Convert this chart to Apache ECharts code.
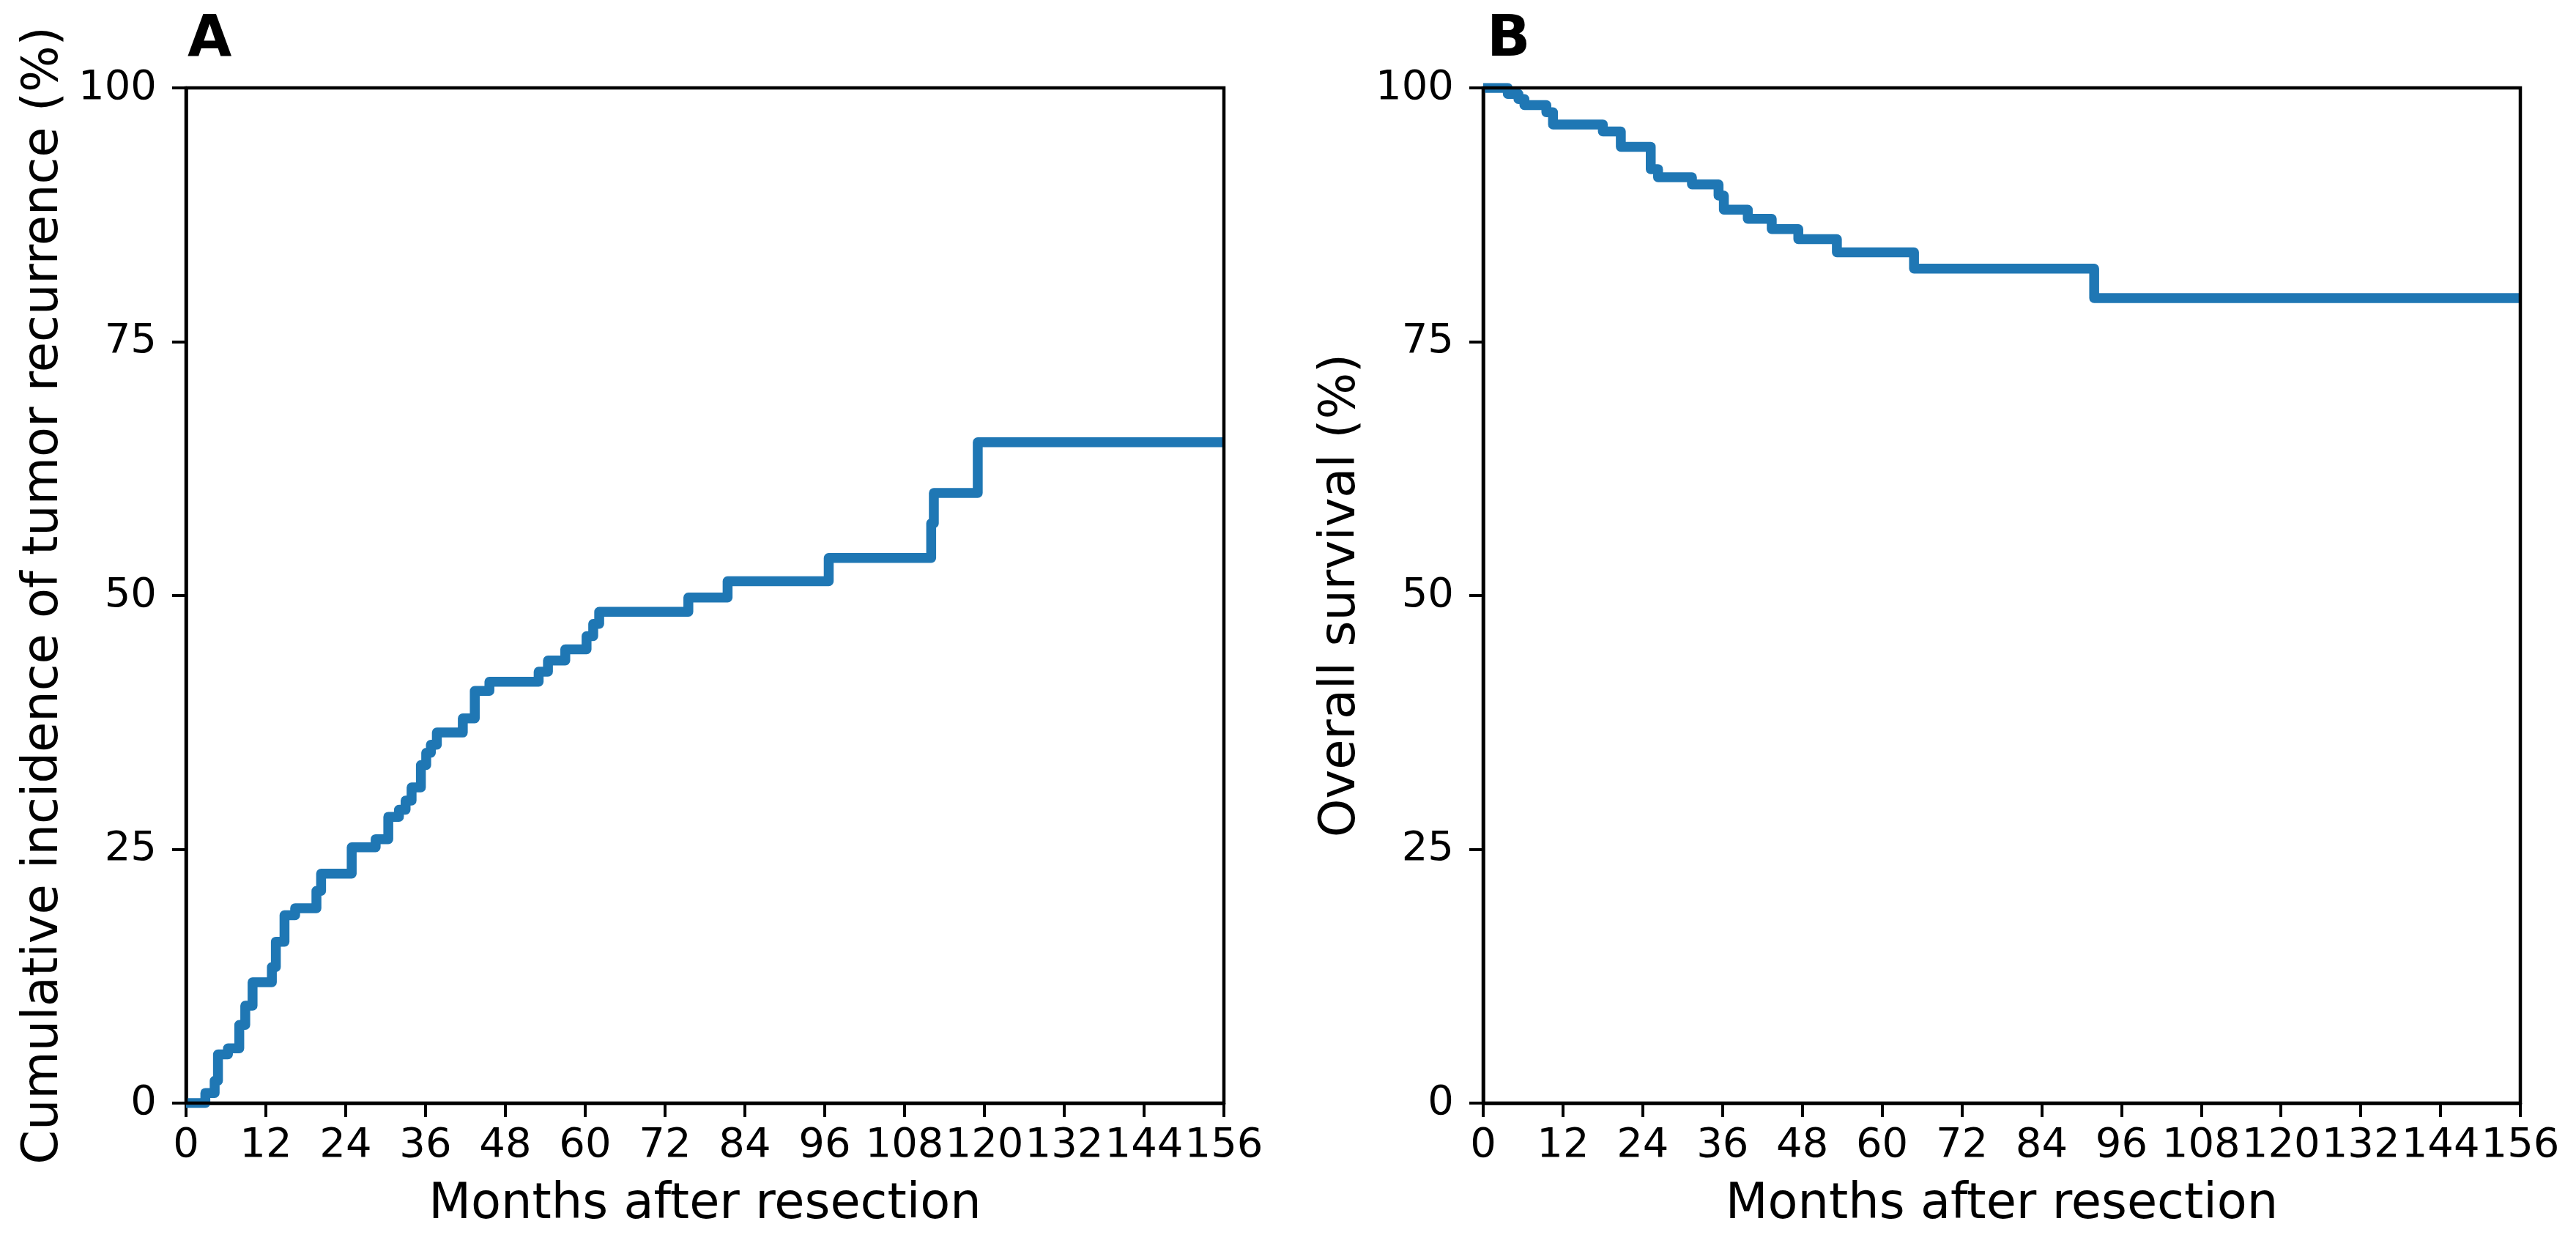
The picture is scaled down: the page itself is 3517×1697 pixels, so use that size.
<!DOCTYPE html>
<html>
<head>
<meta charset="utf-8">
<script src="https://cdn.jsdelivr.net/npm/echarts@6/dist/echarts.min.js"></script>
<style>
html,body{margin:0;padding:0;background:#fff;}
#c{width:3517px;height:1697px;}
</style>
</head>
<body>
<div id="c"></div>
<script>
// Panel A: cumulative incidence of tumor recurrence (step times in months, % after step)
const recurrenceMonths = [0, 2.9, 4.3, 4.8, 6.3, 8.0, 8.9, 10.0, 12.9, 13.5, 14.8, 16.4, 19.6, 20.3, 24.9, 28.5, 30.4, 32.0, 33.0, 33.9, 35.3, 36.1, 36.8, 37.7, 41.6, 43.4, 45.6, 53.0, 54.4, 57.0, 60.2, 61.2, 62.1, 75.5, 81.4, 96.6, 112.0, 112.4, 119.0, 156];
const recurrencePct    = [0, 1.0, 2.2, 4.8, 5.4, 7.7, 9.6, 11.9, 13.4, 15.9, 18.5, 19.2, 20.9, 22.6, 25.2, 26.0, 28.2, 28.9, 29.8, 31.1, 33.3, 34.5, 35.3, 36.5, 37.9, 40.6, 41.5, 42.5, 43.6, 44.7, 46.0, 47.2, 48.4, 49.8, 51.4, 53.7, 57.1, 60.1, 65.1, 65.1];

// Panel B: overall survival
const survivalMonths = [0, 3.7, 5.3, 6.2, 9.5, 10.5, 18.0, 20.7, 25.2, 26.3, 31.4, 35.4, 36.2, 39.8, 43.4, 47.4, 53.2, 64.8, 91.9, 156];
const survivalPct    = [100, 99.4, 98.9, 98.3, 97.6, 96.4, 95.7, 94.2, 92.0, 91.2, 90.5, 89.4, 88.0, 87.1, 86.1, 85.1, 83.8, 82.2, 79.3, 79.3];

const xMin = 0, xMax = 156, xInterval = 12;
const yMin = 0, yMax = 100, yInterval = 25;
const xTitle = 'Months after resection';
const yTitleA = 'Cumulative incidence of tumor recurrence (%)';
const yTitleB = 'Overall survival (%)';
const panelLabels = ['A', 'B'];

const FONT = 'DejaVu Sans';
const lineColor = '#1f77b4';

function pairs(xs, ys) { return xs.map((x, i) => [x, ys[i]]); }

function xAxisCfg(gi) {
  return {
    type: 'value', gridIndex: gi, min: xMin, max: xMax, interval: xInterval,
    axisLine: { show: true, onZero: false, lineStyle: { color: '#000', width: 4.5 } },
    axisTick: { show: true, length: 19, lineStyle: { color: '#000', width: 4 } },
    axisLabel: { fontSize: 56, color: '#000', fontFamily: FONT, margin: 30 },
    splitLine: { show: false },
    name: xTitle, nameLocation: 'middle', nameGap: 106,
    nameTextStyle: { fontSize: 67, color: '#000', fontFamily: FONT }
  };
}
function yAxisCfg(gi, title) {
  return {
    type: 'value', gridIndex: gi, min: yMin, max: yMax, interval: yInterval,
    axisLine: { show: true, onZero: false, lineStyle: { color: '#000', width: 4.5 } },
    axisTick: { show: true, length: 19, lineStyle: { color: '#000', width: 4 } },
    axisLabel: { fontSize: 56, color: '#000', fontFamily: FONT, margin: 40 },
    splitLine: { show: false },
    name: title, nameLocation: 'middle', nameGap: 160,
    nameTextStyle: { fontSize: 67, color: '#000', fontFamily: FONT }
  };
}
function seriesCfg(gi, data) {
  return {
    type: 'line', xAxisIndex: gi, yAxisIndex: gi, step: 'end',
    data: data, symbol: 'none', showSymbol: false, clip: true,
    lineStyle: { color: lineColor, width: 13.5, join: 'round', cap: 'butt' },
    z: 1
  };
}

const chart = echarts.init(document.getElementById('c'), null, { renderer: 'canvas' });
chart.setOption({
  animation: false,
  backgroundColor: '#fff',
  title: [
    { text: panelLabels[0], left: 256, top: 17, padding: 0, textStyle: { fontSize: 78, fontWeight: 'bold', fontFamily: FONT, color: '#000' } },
    { text: panelLabels[1], left: 2030, top: 17, padding: 0, textStyle: { fontSize: 78, fontWeight: 'bold', fontFamily: FONT, color: '#000' } }
  ],
  grid: [
    { left: 254, top: 120, width: 1417, height: 1386, show: true, borderColor: '#000', borderWidth: 4.5, backgroundColor: 'transparent', z: 3 },
    { left: 2025, top: 120, width: 1416, height: 1386, show: true, borderColor: '#000', borderWidth: 4.5, backgroundColor: 'transparent', z: 3 }
  ],
  xAxis: [xAxisCfg(0), xAxisCfg(1)],
  yAxis: [yAxisCfg(0, yTitleA), yAxisCfg(1, yTitleB)],
  series: [
    seriesCfg(0, pairs(recurrenceMonths, recurrencePct)),
    seriesCfg(1, pairs(survivalMonths, survivalPct))
  ]
});
</script>
</body>
</html>
